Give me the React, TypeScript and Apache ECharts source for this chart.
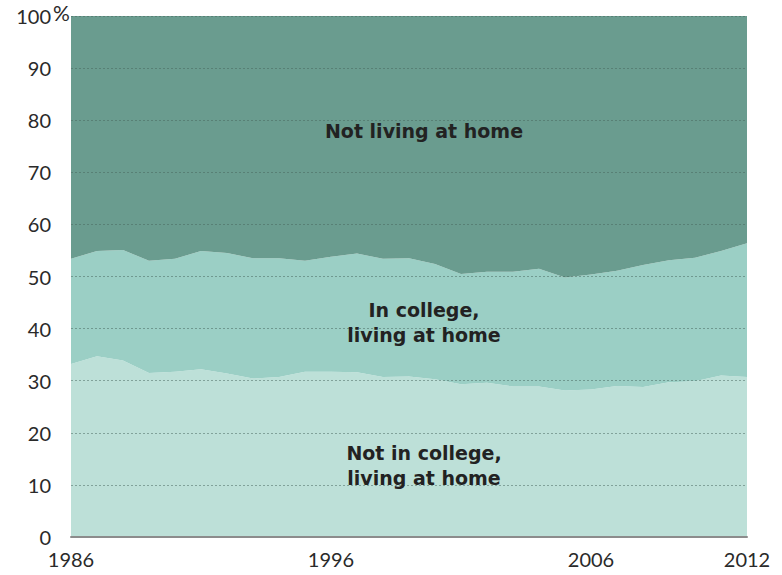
import React, { useEffect, useRef } from "react";
import * as echarts from "echarts";

const years = [
  "1986", "1987", "1988", "1989", "1990", "1991", "1992", "1993", "1994",
  "1995", "1996", "1997", "1998", "1999", "2000", "2001", "2002", "2003",
  "2004", "2005", "2006", "2007", "2008", "2009", "2010", "2011", "2012",
];
const shownYears = ["1986", "1996", "2006", "2012"];

// Not in college, living at home (%)
const notInCollegeHome = [
  33.2, 34.7, 33.9, 31.5, 31.7, 32.2, 31.4, 30.4, 30.7, 31.7, 31.7, 31.6, 30.7,
  30.8, 30.3, 29.3, 29.6, 28.9, 28.9, 28.1, 28.3, 29.0, 28.8, 29.7, 29.9, 31.0,
  30.7,
];
// In college, living at home (%)
const inCollegeHome = [
  20.2, 20.2, 21.2, 21.5, 21.7, 22.7, 23.1, 23.1, 22.8, 21.3, 22.1, 22.8, 22.7,
  22.7, 22.1, 21.2, 21.3, 22.0, 22.6, 21.7, 22.1, 22.1, 23.4, 23.4, 23.7, 23.9,
  25.7,
];
// Not living at home (%)
const notLivingHome = [
  46.6, 45.1, 44.9, 47.0, 46.6, 45.1, 45.5, 46.5, 46.5, 47.0, 46.2, 45.6, 46.6,
  46.5, 47.6, 49.5, 49.1, 49.1, 48.5, 50.2, 49.6, 48.9, 47.8, 46.9, 46.4, 45.1,
  43.6,
];
const yTicks = [0, 10, 20, 30, 40, 50, 60, 70, 80, 90, 100];

const seriesNames = [
  "Not in college, living at home",
  "In college, living at home",
  "Not living at home",
];
const colors = ["#bde0d8", "#9bcfc5", "#6a9c8f"];

export default function App() {
  const ref = useRef<HTMLDivElement>(null);
  useEffect(() => {
    if (!ref.current) return;
    const chart = echarts.init(ref.current, null, { renderer: "svg" });
    const data = [notInCollegeHome, inCollegeHome, notLivingHome];
    const labelFont = "Lato, 'DejaVu Sans', sans-serif";
    const areaFont = "bold 19px 'DejaVu Sans', Arial, sans-serif";
    chart.setOption({
      animation: false,
      grid: { left: 71, right: 35, top: 16, bottom: 38 },
      xAxis: {
        type: "category",
        data: years,
        boundaryGap: false,
        axisLine: { show: true, lineStyle: { color: "#8c8c8c", width: 2 } },
        axisTick: { show: false },
        axisLabel: {
          interval: (i: number, v: string) => shownYears.includes(v),
          color: "#2a2a2a",
          fontFamily: labelFont,
          fontSize: 20,
          margin: 12,
        },
        splitLine: { show: false },
        z: 10,
      },
      yAxis: {
        type: "value",
        min: 0,
        max: 100,
        interval: 10,
        axisLine: { show: false },
        axisTick: { show: false },
        axisLabel: {
          color: "#2a2a2a",
          fontFamily: labelFont,
          fontSize: 20,
          margin: 20,
          formatter: (v: number) => (yTicks.includes(v) ? String(v) : ""),
        },
        splitLine: {
          show: true,
          lineStyle: { color: "rgba(70,100,92,0.5)", type: [2, 2], width: 1 },
        },
        z: 10,
      },
      series: data.map((d, i) => ({
        name: seriesNames[i],
        type: "line",
        stack: "total",
        data: d,
        symbol: "none",
        lineStyle: { width: 0 },
        areaStyle: { color: colors[i], opacity: 1 },
        z: 1,
      })),
      graphic: [
        {
          type: "text",
          left: 53,
          top: 2,
          style: {
            text: "%",
            fill: "#2a2a2a",
            font: "21px " + labelFont,
          },
        },
        {
          type: "text",
          x: 424,
          y: 131,
          style: {
            text: "Not living at home",
            fill: "#222",
            font: areaFont,
            align: "center",
            verticalAlign: "middle",
          },
          z: 20,
        },
        {
          type: "text",
          x: 424,
          y: 322,
          style: {
            text: "In college,\nliving at home",
            fill: "#222",
            font: areaFont,
            align: "center",
            verticalAlign: "middle",
            lineHeight: 25,
          },
          z: 20,
        },
        {
          type: "text",
          x: 424,
          y: 465,
          style: {
            text: "Not in college,\nliving at home",
            fill: "#222",
            font: areaFont,
            align: "center",
            verticalAlign: "middle",
            lineHeight: 25,
          },
          z: 20,
        },
      ],
    });
    return () => chart.dispose();
  }, []);
  return (
    <div
      ref={ref}
      style={{ position: "absolute", left: 0, top: 0, width: 782, height: 575 }}
    />
  );
}
